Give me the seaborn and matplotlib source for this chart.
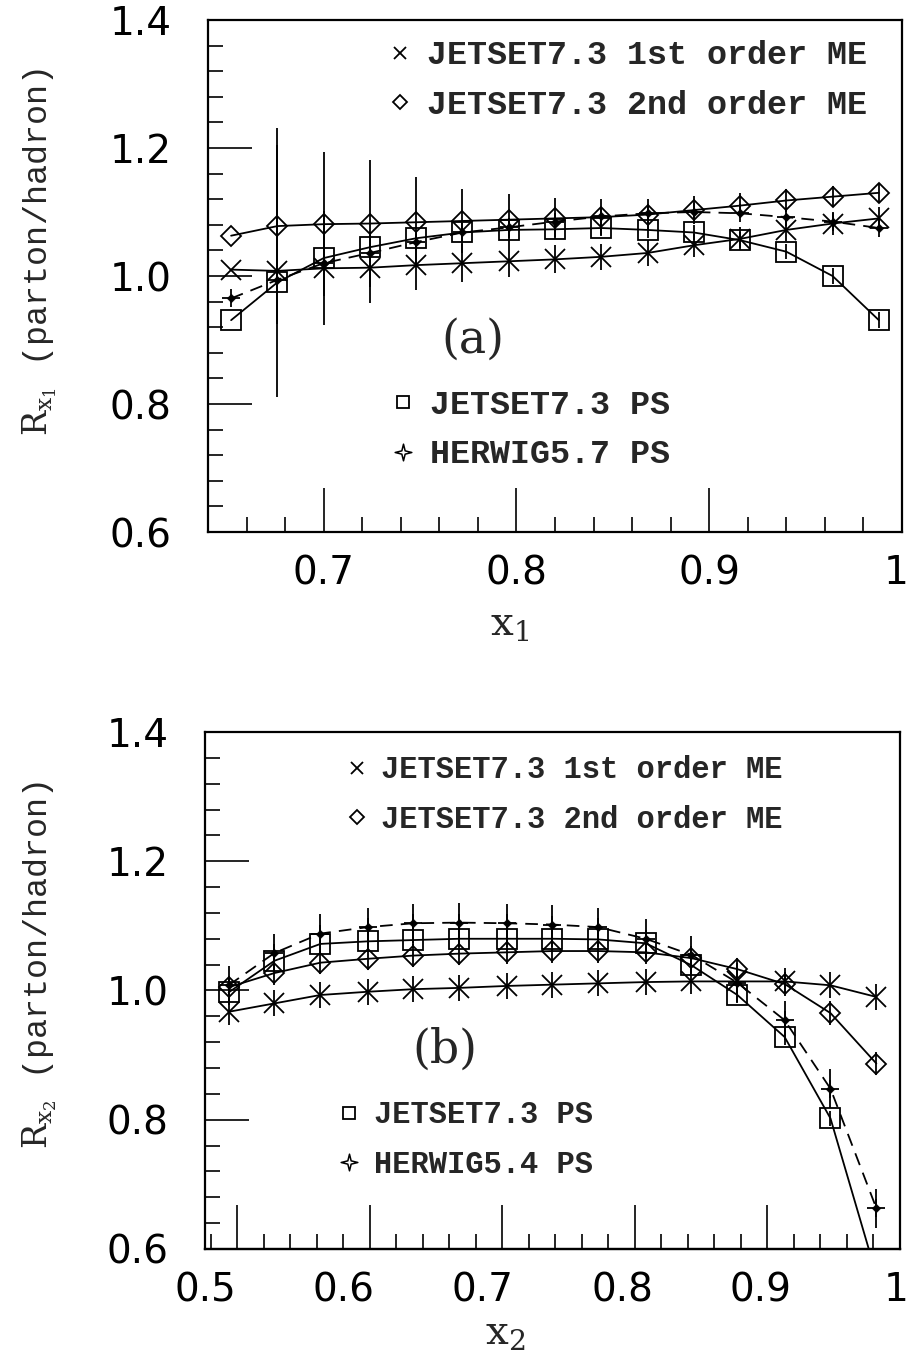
import numpy as np
import matplotlib
matplotlib.use("Agg")
import matplotlib.pyplot as plt
import matplotlib.transforms as mtransforms
from matplotlib.path import Path
import seaborn as sns
from matplotlib.lines import Line2D
from matplotlib.font_manager import FontProperties

# ---------------- data: parton/hadron correction factors ----------------
# panel (a): leading-parton energy fraction x1
x1_centers = [0.652, 0.676, 0.700, 0.724, 0.748, 0.772, 0.796, 0.820,
              0.844, 0.868, 0.892, 0.916, 0.940, 0.964, 0.988]
a_me1 = [1.010, 1.008, 1.012, 1.013, 1.017, 1.020, 1.023, 1.026,
         1.030, 1.036, 1.048, 1.058, 1.072, 1.082, 1.090]
a_me1_err = [0.0, 0.197, 0.089, 0.055, 0.039, 0.030, 0.025, 0.022,
             0.020, 0.020, 0.018, 0.018, 0.018, 0.018, 0.018]
a_me2 = [1.063, 1.078, 1.081, 1.082, 1.084, 1.086, 1.088, 1.090,
         1.092, 1.096, 1.103, 1.110, 1.118, 1.124, 1.130]
a_me2_err = [0.0, 0.153, 0.113, 0.099, 0.070, 0.050, 0.040, 0.032,
             0.028, 0.025, 0.022, 0.020, 0.018, 0.016, 0.015]
a_ps = [0.931, 0.990, 1.028, 1.045, 1.059, 1.068, 1.072, 1.073,
        1.075, 1.072, 1.068, 1.056, 1.038, 1.000, 0.931]
a_ps_err = [0.0, 0.012, 0.012, 0.012, 0.012, 0.012, 0.012, 0.012,
            0.012, 0.012, 0.012, 0.012, 0.012, 0.012, 0.012]
a_hw = [0.965, 0.994, 1.020, 1.036, 1.053, 1.068, 1.076, 1.085,
        1.093, 1.098, 1.100, 1.098, 1.092, 1.085, 1.075]

# panel (b): second-parton energy fraction x2
x2_centers = [0.517, 0.550, 0.583, 0.617, 0.650, 0.683, 0.717, 0.750,
              0.783, 0.817, 0.850, 0.883, 0.917, 0.950, 0.983]
b_me1 = [0.967, 0.980, 0.993, 0.998, 1.002, 1.004, 1.007, 1.009,
         1.011, 1.013, 1.014, 1.014, 1.014, 1.008, 0.990]
b_me1_err = [0.020] * 15
b_me2 = [1.005, 1.027, 1.043, 1.049, 1.054, 1.057, 1.059, 1.061,
         1.061, 1.059, 1.050, 1.033, 1.010, 0.965, 0.887]
b_me2_err = [0.018] * 15
b_ps = [0.997, 1.046, 1.072, 1.076, 1.078, 1.080, 1.080, 1.080,
        1.079, 1.073, 1.039, 0.993, 0.928, 0.802, 0.560]
b_ps_err = [0.012] * 15
b_hw = [1.008, 1.058, 1.088, 1.098, 1.104, 1.105, 1.104, 1.102,
        1.098, 1.080, 1.055, 1.012, 0.954, 0.848, 0.663]
b_hw_err = [0.030] * 15

y_ticks = [0.6, 0.8, 1.0, 1.2, 1.4]
y_ticklabels = ["0.6", "0.8", "1.0", "1.2", "1.4"]
a_xticks = [0.7, 0.8, 0.9, 1.0]
a_xticklabels = ["0.7", "0.8", "0.9", "1"]
b_xticks = [0.5, 0.6, 0.7, 0.8, 0.9, 1.0]
b_xticklabels = ["0.5", "0.6", "0.7", "0.8", "0.9", "1"]

lab_me1 = "JETSET7.3 1st order ME"
lab_me2 = "JETSET7.3 2nd order ME"
lab_ps = "JETSET7.3 PS"
lab_hw_a = "HERWIG5.7 PS"
lab_hw_b = "HERWIG5.4 PS"

# ---------------- style ----------------
sns.set_theme(style="ticks")
plt.rcParams["font.family"] = ["DejaVu Sans"]
plt.rcParams["mathtext.fontset"] = "custom"
plt.rcParams["mathtext.rm"] = "DejaVu Serif"
plt.rcParams["mathtext.it"] = "DejaVu Serif:italic"
plt.rcParams["mathtext.bf"] = "DejaVu Serif:bold"
plt.rcParams["axes.edgecolor"] = "black"
plt.rcParams["xtick.color"] = "black"
plt.rcParams["ytick.color"] = "black"

MONO = "Liberation Mono"
SERIF = "DejaVu Serif"
LW = 1.3

# four-pointed star used for the HERWIG legend symbol
_r_in = 0.28
_star_pts = []
for i in range(8):
    ang = np.pi / 2 + i * np.pi / 4
    r = 1.0 if i % 2 == 0 else _r_in
    _star_pts.append((r * np.cos(ang), r * np.sin(ang)))
_star_pts.append(_star_pts[0])
STAR4 = Path(_star_pts, closed=True)

fig = plt.figure(figsize=(9.09, 13.61), dpi=100)
ax_a = fig.add_axes([0.2288, 0.6091, 0.7635, 0.3762])
ax_b = fig.add_axes([0.2255, 0.0823, 0.7646, 0.3799])


def draw_series(ax, x, y, err, marker, ms, ls="-"):
    sns.lineplot(x=x, y=y, ax=ax, color="black", lw=LW, linestyle=ls,
                 marker=marker, markersize=ms, markerfacecolor="none",
                 markeredgecolor="black", markeredgewidth=LW,
                 errorbar=None, legend=False, sort=False)
    if err is not None:
        ax.errorbar(x, y, yerr=err, fmt="none", ecolor="black",
                    elinewidth=LW, capsize=0)


def draw_herwig(ax, x, y, err):
    sns.lineplot(x=x, y=y, ax=ax, color="black", lw=LW,
                 linestyle=(0, (7, 4.5)), marker="+", markersize=13,
                 markeredgecolor="black", markeredgewidth=LW,
                 errorbar=None, legend=False, sort=False)
    sns.scatterplot(x=x, y=y, ax=ax, marker="D", s=18, color="black",
                    edgecolor="black", linewidth=0.5, legend=False)
    if err is not None:
        ax.errorbar(x, y, yerr=err, fmt="none", ecolor="black",
                    elinewidth=LW, capsize=0)


def style_axes(ax, xlim):
    ax.set_xlim(*xlim)
    ax.set_ylim(0.6, 1.4)
    for sp in ax.spines.values():
        sp.set_visible(True)
        sp.set_linewidth(1.6)
        sp.set_color("black")
    ax.set_yticks(y_ticks)
    ax.set_yticklabels(y_ticklabels)
    ax.set_yticks(np.arange(0.64, 1.39, 0.04), minor=True)
    ax.tick_params(axis="both", which="major", direction="in", length=32,
                   width=1.2, labelsize=28, top=False, right=False)
    ax.tick_params(axis="both", which="minor", direction="in", length=11,
                   width=1.2, top=False, right=False)
    ax.tick_params(axis="y", which="major", pad=26)
    ax.tick_params(axis="x", which="major", pad=16)


def add_legends(ax, fsize, pos1, pos2, hw_label, spacing):
    prop = FontProperties(family=MONO, weight="bold", size=fsize)
    h_me1 = Line2D([], [], ls="none", marker="x", ms=9, mew=1.3, color="black")
    h_me2 = Line2D([], [], ls="none", marker="D", ms=7, mew=1.3,
                   mfc="none", mec="black")
    h_ps = Line2D([], [], ls="none", marker="s", ms=8, mew=1.3,
                  mfc="none", mec="black")
    h_hw = Line2D([], [], ls="none", marker=STAR4, ms=12, mew=1.1,
                  mfc="none", mec="black")
    kw = dict(loc="center left", frameon=False, prop=prop, handlelength=0.8,
              handletextpad=0.4, labelspacing=spacing, borderpad=0,
              borderaxespad=0)
    leg1 = ax.legend([h_me1, h_me2], [lab_me1, lab_me2],
                     bbox_to_anchor=pos1, **kw)
    ax.add_artist(leg1)
    ax.legend([h_ps, h_hw], [lab_ps, hw_label], bbox_to_anchor=pos2, **kw)


def nudge_last_xlabel(ax, dx_px):
    lbl = ax.get_xticklabels()[-1]
    lbl.set_transform(lbl.get_transform() + mtransforms.ScaledTranslation(
        dx_px / fig.dpi, 0, fig.dpi_scale_trans))


# ---------------- panel (a) ----------------
draw_series(ax_a, x1_centers, a_me1, a_me1_err, "x", 15)
draw_series(ax_a, x1_centers, a_me2, a_me2_err, "D", 10)
draw_series(ax_a, x1_centers, a_ps, a_ps_err, "s", 14)
draw_herwig(ax_a, x1_centers, a_hw, None)
style_axes(ax_a, (0.64, 1.0))
ax_a.set_xticks(a_xticks)
ax_a.set_xticklabels(a_xticklabels)
ax_a.set_xticks(np.arange(0.66, 0.995, 0.02), minor=True)
ax_a.set_xlabel(r"$\mathrm{x}_1$", fontsize=29, va="center")
ax_a.xaxis.set_label_coords(0.435, -0.18)
ax_a.set_ylabel(r"$\mathrm{R}_{\mathrm{x}_1}$ (parton/hadron)", fontsize=24,
                family=MONO, va="center")
ax_a.yaxis.set_label_coords(-0.242, 0.547)
ax_a.text(0.382, 0.375, "(a)", transform=ax_a.transAxes, fontsize=33,
          family=SERIF, ha="center", va="center")
add_legends(ax_a, 24, (0.258, 0.882), (0.262, 0.199), lab_hw_a, 0.55)

# ---------------- panel (b) ----------------
draw_series(ax_b, x2_centers, b_me1, b_me1_err, "x", 15)
draw_series(ax_b, x2_centers, b_me2, b_me2_err, "D", 10)
draw_series(ax_b, x2_centers, b_ps, b_ps_err, "s", 14)
draw_herwig(ax_b, x2_centers, b_hw, b_hw_err)
style_axes(ax_b, (0.5, 1.0))
ax_b.set_xticks(b_xticks)
ax_b.set_xticklabels(b_xticklabels)
ax_b.tick_params(axis="x", which="major", length=0)
tick_grid = 0.5043 + 0.01906 * np.arange(26)
long_idx = [1, 6, 11, 16, 21]
ax_b.set_xticks([t for i, t in enumerate(tick_grid) if i not in long_idx],
                minor=True)
sec = ax_b.secondary_xaxis("bottom")
sec.set_xticks([tick_grid[i] for i in long_idx])
sec.tick_params(axis="x", direction="in", length=32, width=1.2,
                labelbottom=False, color="black")
sec.spines["bottom"].set_linewidth(1.6)
sec.spines["bottom"].set_color("black")
ax_b.set_xlabel(r"$\mathrm{x}_2$", fontsize=29, va="center")
ax_b.xaxis.set_label_coords(0.432, -0.162)
ax_b.set_ylabel(r"$\mathrm{R}_{\mathrm{x}_2}$ (parton/hadron)", fontsize=24,
                family=MONO, va="center")
ax_b.yaxis.set_label_coords(-0.237, 0.549)
ax_b.text(0.345, 0.385, "(b)", transform=ax_b.transAxes, fontsize=33,
          family=SERIF, ha="center", va="center")
add_legends(ax_b, 22, (0.201, 0.878), (0.190, 0.211), lab_hw_b, 0.63)

nudge_last_xlabel(ax_a, -6)
nudge_last_xlabel(ax_b, -4)

fig.savefig("out.png", dpi=100, facecolor="white")
